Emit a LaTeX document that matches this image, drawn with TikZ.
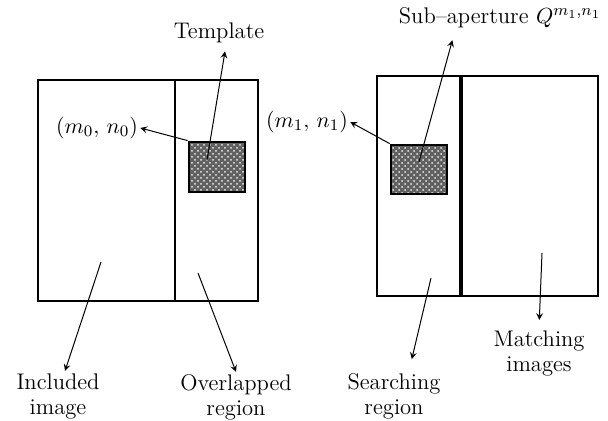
\documentclass[tikz,border=0pt]{standalone}
\usetikzlibrary{patterns}

\begin{document}
\begin{tikzpicture}[x=0.5pt,y=-0.5pt,
    frame/.style={draw,line width=1.3pt},
    patch/.style={draw,line width=1.4pt,inner sep=0pt,preaction={fill=black!62},
      pattern=crosshatch dots,pattern color=white!85!gray},
    lbl/.style={font=\fontsize{11.3}{12.5}\selectfont,align=center,inner sep=1pt}]
  \useasboundingbox (0,0) rectangle (608,421);

  % included image and the overlapped strip
  \draw[frame] (38,80) rectangle (258,301);
  \draw[frame] (175,80) -- (175,301);
  \node[patch,minimum width=28pt,minimum height=25pt] (tpl) at (217,167) {};

  % searching region and matching image
  \draw[frame] (377,76) rectangle (598,296);
  \draw[line width=2pt] (461,76) -- (461,296);
  \node[patch,minimum width=28pt,minimum height=24.5pt] (sub) at (419,169.5) {};

  \node[lbl] (tplLbl) at (219,33) {Template};
  \node[lbl] (pos0) at (97,128) {$(m_0,\,n_0)$};
  \node[lbl] (pos1) at (307,122) {$(m_1,\,n_1)$};
  \node[lbl] (subLbl) at (500,18) {Sub--aperture $Q^{m_1,n_1}$};
  \node[lbl] (incl) at (58,396) {Included\\image};
  \node[lbl] (ovl) at (236,397) {Overlapped\\region};
  \node[lbl] (srch) at (394,396) {Searching\\region};
  \node[lbl] (mtch) at (539,353) {Matching\\images};

  \coordinate (tplIn) at (207,160);
  \coordinate (subIn) at (419,162);
  \coordinate (inclIn) at (101,262);
  \coordinate (ovlIn) at (198,273);
  \coordinate (srchIn) at (431,278);
  \coordinate (mtchIn) at (542,253);

  \path[-stealth,line width=0.5pt]
    (tplIn) edge[shorten >=3pt] ([xshift=3.5pt]tplLbl.south)
    (tpl.north west) edge (pos0.east)
    (sub.north west) edge (pos1.east)
    (subIn) edge[shorten >=5pt] ([xshift=-22.5pt]subLbl.south)
    (inclIn) edge ([xshift=3.5pt]incl.north)
    (ovlIn) edge (ovl.north)
    (srchIn) edge[shorten >=6pt] ([xshift=7.5pt]srch.north)
    (mtchIn) edge[shorten >=4pt] (mtch.north);
\end{tikzpicture}
\end{document}
